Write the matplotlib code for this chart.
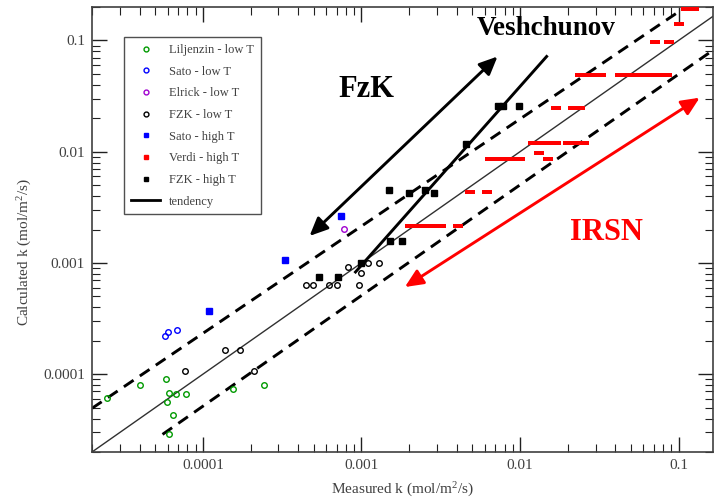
import matplotlib
matplotlib.use("Agg")
import matplotlib.pyplot as plt
from matplotlib.lines import Line2D
from matplotlib.ticker import FixedLocator, FixedFormatter, LogLocator, NullFormatter

plt.rcParams.update({
    "font.family": ["Liberation Serif", "DejaVu Serif"],
    "mathtext.fontset": "custom",
    "mathtext.rm": "Liberation Serif",
    "mathtext.it": "Liberation Serif:italic",
    "font.size": 11,
})

# Data (measured k, calculated k) in mol/m2/s
lilj_x = [2.48e-5, 4.03e-5, 5.82e-5, 6.1e-5, 5.93e-5, 6.73e-5, 7.86e-5, 6.47e-5, 6.1e-5, 1.56e-4, 2.44e-4]
lilj_y = [6.17e-5, 8.07e-5, 9.01e-5, 6.84e-5, 5.62e-5, 6.65e-5, 6.7e-5, 4.27e-5, 2.88e-5, 7.43e-5, 8.07e-5]

sato_low_x = [5.75e-5, 6.01e-5, 6.86e-5]
sato_low_y = [2.19e-4, 2.38e-4, 2.48e-4]

elrick_x = [7.76e-4]
elrick_y = [2.02e-3]

fzk_low_x = [7.67e-5, 1.38e-4, 1.71e-4, 2.09e-4, 4.49e-4, 4.97e-4, 6.21e-4, 7.0e-4, 9.59e-4,
             8.26e-4, 1.10e-3, 1.29e-3, 9.98e-4]
fzk_low_y = [1.06e-4, 1.64e-4, 1.64e-4, 1.06e-4, 6.34e-4, 6.34e-4, 6.34e-4, 6.34e-4, 6.34e-4,
             9.14e-4, 9.93e-4, 9.93e-4, 8.18e-4]

sato_high_x = [1.10e-4, 3.29e-4, 7.39e-4]
sato_high_y = [3.67e-4, 1.07e-3, 2.67e-3]

verdi_x = [2.04e-3, 2.30e-3, 2.58e-3, 2.90e-3, 3.16e-3, 4.05e-3,
           4.82e-3, 6.17e-3,
           6.44e-3, 7.13e-3, 7.89e-3, 8.87e-3, 9.96e-3, 0.0150, 0.0132,
           0.0120, 0.0133, 0.0149, 0.0168, 0.0200, 0.0224, 0.0252,
           0.0170, 0.0215, 0.0238,
           0.0238, 0.0264, 0.0292, 0.0323, 0.0425, 0.0477, 0.0535, 0.0601, 0.0676, 0.0759, 0.0852,
           0.0706, 0.0867, 0.101, 0.111, 0.125]
verdi_y = [2.13e-3, 2.13e-3, 2.13e-3, 2.13e-3, 2.13e-3, 2.13e-3,
           4.34e-3, 4.34e-3,
           8.65e-3, 8.65e-3, 8.65e-3, 8.65e-3, 8.65e-3, 8.65e-3, 9.8e-3,
           0.01205, 0.01205, 0.01205, 0.01205, 0.01205, 0.01205, 0.01205,
           0.0248, 0.0248, 0.0248,
           0.0485, 0.0485, 0.0485, 0.0485, 0.0485, 0.0485, 0.0485, 0.0485, 0.0485, 0.0485, 0.0485,
           0.0960, 0.0960, 0.142, 0.191, 0.191]

fzk_high_x = [7.23e-3, 7.78e-3, 9.86e-3, 4.59e-3, 1.49e-3, 2.0e-3, 2.51e-3, 2.88e-3,
              1.51e-3, 1.81e-3, 9.98e-4, 5.40e-4, 7.08e-4]
fzk_high_y = [0.0258, 0.0258, 0.0258, 0.01165, 4.52e-3, 4.25e-3, 4.52e-3, 4.25e-3,
              1.59e-3, 1.57e-3, 9.93e-4, 7.43e-4, 7.43e-4]

# guide lines
tend_x = [2e-5, 0.2]
upper_x = [2e-5, 0.111]
upper_y = [4.94e-5, 0.2]
lower_x = [5.57e-5, 0.164]
lower_y = [2.88e-5, 0.0813]

# annotations (x, y of both ends)
fzk_arrow = [(4.71e-4, 1.75e-3), (7.22e-3, 0.0718)]
vesh_line_x = [9.18e-4, 0.01473]
vesh_line_y = [8.3e-4, 0.0718]
irsn_arrow = [(1.88e-3, 6.08e-4), (0.136, 0.0306)]

GREEN = "#009a00"
BLUE = "#0000ff"
PURPLE = "#a000d0"
RED = "#ff0000"
TXT = "#404040"

fig = plt.figure(figsize=(7.15, 5.01), dpi=100)
ax = fig.add_axes([92 / 715, 49 / 501, 621 / 715, 445 / 501])
ax.set_xscale("log")
ax.set_yscale("log")
ax.set_xlim(2e-5, 0.165)
ax.set_ylim(2e-5, 0.2)

ax.plot(tend_x, tend_x, color="#303030", lw=1.0, zorder=2)
ax.plot(upper_x, upper_y, color="black", lw=2.1, dashes=(4, 2.6), zorder=2)
ax.plot(lower_x, lower_y, color="black", lw=2.1, dashes=(4, 2.6), zorder=2)
ax.plot(vesh_line_x, vesh_line_y, color="black", lw=2.1, zorder=2)

ax.annotate("", xy=fzk_arrow[1], xytext=fzk_arrow[0],
            arrowprops=dict(arrowstyle="<|-|>,head_length=1.0,head_width=0.45",
                            color="black", lw=2.1, shrinkA=0, shrinkB=0))
ax.annotate("", xy=irsn_arrow[1], xytext=irsn_arrow[0],
            arrowprops=dict(arrowstyle="<|-|>,head_length=1.0,head_width=0.45",
                            color=RED, lw=2.1, shrinkA=0, shrinkB=0))

open_kw = dict(linestyle="none", marker="o", markersize=4, markeredgewidth=1.0,
               markerfacecolor="none", zorder=4)
ax.plot(lilj_x, lilj_y, color=GREEN, **open_kw)
ax.plot(sato_low_x, sato_low_y, color=BLUE, **open_kw)
ax.plot(elrick_x, elrick_y, color=PURPLE, **open_kw)
ax.plot(fzk_low_x, fzk_low_y, color="black", **open_kw)
ax.plot(sato_high_x, sato_high_y, linestyle="none", marker="s", markersize=3.8,
        color=BLUE, zorder=4)
dash_marker = [(-1, -0.42), (1, -0.42), (1, 0.42), (-1, 0.42), (-1, -0.42)]
ax.plot(verdi_x, verdi_y, linestyle="none", marker=dash_marker, markersize=7,
        color=RED, markeredgewidth=0, zorder=4)
ax.plot(fzk_high_x, fzk_high_y, linestyle="none", marker="s", markersize=3.8,
        color="black", zorder=4)

ax.text(1.08e-3, 0.036, "FzK", fontsize=22, fontweight="bold", ha="center", va="center")
ax.text(0.0147, 0.127, "Veshchunov", fontsize=19.5, fontweight="bold", ha="center", va="center")
ax.text(0.0352, 1.88e-3, "IRSN", fontsize=22, fontweight="bold", color=RED,
        ha="center", va="center")

handles = [
    Line2D([], [], linestyle="none", marker="o", markersize=3.5, markerfacecolor="none", color=GREEN),
    Line2D([], [], linestyle="none", marker="o", markersize=3.5, markerfacecolor="none", color=BLUE),
    Line2D([], [], linestyle="none", marker="o", markersize=3.5, markerfacecolor="none", color=PURPLE),
    Line2D([], [], linestyle="none", marker="o", markersize=3.5, markerfacecolor="none", color="black"),
    Line2D([], [], linestyle="none", marker="s", markersize=3.2, color=BLUE),
    Line2D([], [], linestyle="none", marker="s", markersize=3.2, color=RED),
    Line2D([], [], linestyle="none", marker="s", markersize=3.2, color="black"),
    Line2D([], [], color="black", lw=2),
]
labels = ["Liljenzin - low T", "Sato - low T", "Elrick - low T", "FZK - low T",
          "Sato - high T", "Verdi - high T", "FZK - high T", "tendency"]
leg = ax.legend(handles, labels, loc="upper left", bbox_to_anchor=(0.052, 0.932),
                borderaxespad=0, frameon=True, fancybox=False, framealpha=1,
                edgecolor="#505050", fontsize=9, labelspacing=0.77,
                handlelength=2.3, handletextpad=0.75, borderpad=0.55)
leg.get_frame().set_linewidth(1.0)
for t in leg.get_texts():
    t.set_color(TXT)

# ticks
ax.xaxis.set_major_locator(FixedLocator([1e-4, 1e-3, 1e-2, 1e-1]))
ax.xaxis.set_major_formatter(FixedFormatter(["0.0001", "0.001", "0.01", "0.1"]))
ax.yaxis.set_major_locator(FixedLocator([1e-4, 1e-3, 1e-2, 1e-1]))
ax.yaxis.set_major_formatter(FixedFormatter(["0.0001", "0.001", "0.01", "0.1"]))
for axis in (ax.xaxis, ax.yaxis):
    axis.set_minor_locator(LogLocator(base=10, subs=range(2, 10)))
    axis.set_minor_formatter(NullFormatter())
ax.tick_params(which="both", direction="in", top=True, right=True, color="#202020",
               labelsize=11, labelcolor=TXT, pad=5)
ax.tick_params(which="major", length=11, width=1.0)
ax.tick_params(which="minor", length=6, width=0.8)
for sp in ax.spines.values():
    sp.set_color("#404040")
    sp.set_linewidth(1.2)

ax.set_xlabel("Measured k (mol/m$^2$/s)", fontsize=11, color=TXT)
ax.set_ylabel("Calculated k (mol/m$^2$/s)", fontsize=11, color=TXT)
ax.xaxis.set_label_coords(0.5, -0.065)
ax.yaxis.set_label_coords(-0.093, 0.45)

fig.savefig("out.png", dpi=100, facecolor="white")
